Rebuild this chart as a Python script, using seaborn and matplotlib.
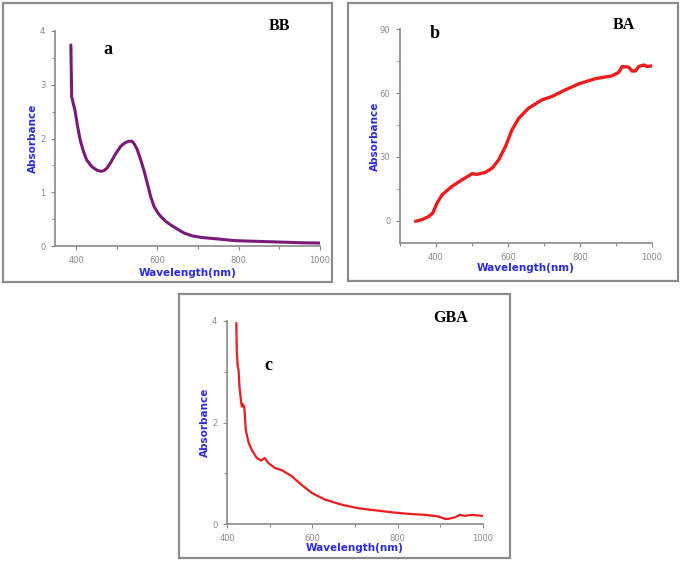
import numpy as np
import pandas as pd
import matplotlib.pyplot as plt
from matplotlib.patches import Rectangle
from matplotlib.ticker import MultipleLocator
import seaborn as sns

# Spectra (wavelength nm, absorbance)
bb_wl = [387, 389, 393, 397, 403, 410, 418, 426, 438, 451, 460, 468, 476, 484, 496,
         509, 520, 530, 537, 542, 550, 559, 567, 575, 583, 592, 600, 608, 620, 633,
         650, 666, 685, 707, 750, 790, 830, 873, 915, 955, 1000]
bb_abs = [3.74, 2.78, 2.65, 2.53, 2.25, 1.97, 1.76, 1.60, 1.48, 1.41, 1.39, 1.40, 1.45,
          1.54, 1.70, 1.85, 1.92, 1.95, 1.95, 1.91, 1.80, 1.60, 1.40, 1.17, 0.93, 0.73,
          0.63, 0.55, 0.46, 0.39, 0.31, 0.24, 0.19, 0.16, 0.13, 0.10, 0.09, 0.08, 0.07,
          0.06, 0.055]

ba_wl = [343, 361, 380, 391, 403, 417, 444, 472, 490, 500, 514, 537, 556, 574, 593,
         611, 630, 657, 694, 722, 759, 796, 843, 889, 907, 917, 935, 944, 954, 963,
         977, 986, 1000]
ba_abs = [-0.3, 0.5, 2.0, 3.6, 8.3, 12.2, 16.1, 19.2, 21.0, 22.1, 21.8, 22.7, 24.7,
          28.6, 34.9, 42.7, 48.2, 52.9, 56.8, 58.4, 61.5, 64.3, 66.8, 68.1, 69.7, 72.5,
          72.2, 70.4, 70.4, 72.5, 73.2, 72.5, 72.8]

gba_wl = [421.8, 423, 425, 427, 429.6, 433.5, 435, 437, 440.5, 444, 451, 460, 470, 480,
          488, 497, 513, 528.6, 552, 575, 599, 630, 669, 708, 747, 787, 825, 864, 895,
          911, 918, 934, 945.6, 957, 973, 1000]
gba_abs = [3.96, 3.40, 3.11, 3.04, 2.66, 2.38, 2.31, 2.36, 2.31, 1.85, 1.59, 1.43, 1.30,
           1.25, 1.30, 1.20, 1.10, 1.06, 0.94, 0.77, 0.61, 0.48, 0.38, 0.31, 0.27, 0.23,
           0.20, 0.18, 0.15, 0.10, 0.10, 0.13, 0.18, 0.16, 0.18, 0.16]

W, H = 685, 562
sns.set_style("ticks")
fig = plt.figure(figsize=(W / 100, H / 100), dpi=100)

gray = "#8a8a8a"
blue = "#2a2ae6"


def px_axes(left, right, top, bottom):
    return fig.add_axes([left / W, 1 - bottom / H, (right - left) / W, (bottom - top) / H])


def frame(x0, y0, x1, y1):
    fig.patches.append(Rectangle((x0 / W, 1 - y1 / H), (x1 - x0) / W, (y1 - y0) / H,
                                 transform=fig.transFigure, fill=False,
                                 edgecolor="#8c8c8c", lw=1.6))


def style(ax, xlim, ylim, ymaj, ymin, ylab_x, xlab_y):
    ax.set_xlim(*xlim)
    ax.set_ylim(*ylim)
    ax.set_xticks([400, 600, 800, 1000])
    ax.xaxis.set_minor_locator(MultipleLocator(100))
    ax.yaxis.set_major_locator(MultipleLocator(ymaj))
    ax.yaxis.set_minor_locator(MultipleLocator(ymin))
    for s in ["top", "right"]:
        ax.spines[s].set_visible(False)
    for s in ["left", "bottom"]:
        ax.spines[s].set_color(gray)
        ax.spines[s].set_linewidth(1.2)
    ax.tick_params(which="both", colors=gray, labelsize=6, length=3, width=0.8, pad=4)
    ax.tick_params(which="minor", length=2)
    ax.set_xlabel("Wavelength(nm)", color=blue, fontsize=7.5, fontweight="bold")
    ax.set_ylabel("Absorbance", color=blue, fontsize=7.5, fontweight="bold")
    ax.xaxis.set_label_coords(0.5, xlab_y)
    ax.xaxis.label.set_va("center")
    ax.yaxis.set_label_coords(ylab_x, 0.5)
    ax.yaxis.label.set_va("center")
    ax.yaxis.label.set_ha("center")


serif = dict(family="Liberation Serif", fontweight="bold", color="black")

# --- panel a: BB ---
frame(3, 3, 332, 282)
ax_a = px_axes(55, 320, 31, 246)
sns.lineplot(x=bb_wl, y=bb_abs, ax=ax_a, color="#7a1a78", lw=2.2)
style(ax_a, (348, 1000), (0, 4), 1, 0.5, -0.083, -0.126)
fig.text(108 / W, 1 - 49 / H, "a", fontsize=13, ha="center", va="center", **serif)
fig.text(279 / W, 1 - 26 / H, "BB", fontsize=11.5, ha="center", va="center", **serif)

# --- panel b: BA ---
frame(348, 3, 678, 281)
ax_b = px_axes(400, 652, 29.3, 243)
sns.lineplot(x=ba_wl, y=ba_abs, ax=ax_b, color="#ee1c1c", lw=2.4)
style(ax_b, (300, 1000), (-10.5, 90), 30, 15, -0.099, -0.117)
fig.text(435 / W, 1 - 34 / H, "b", fontsize=13, ha="center", va="center", **serif)
fig.text(624 / W, 1 - 25 / H, "BA", fontsize=11.5, ha="center", va="center", **serif)

# --- panel c: GBA ---
frame(179, 294, 510, 558)
ax_c = px_axes(227, 483, 321, 524)
sns.lineplot(x=gba_wl, y=gba_abs, ax=ax_c, color="#ee1c1c", lw=1.6)
style(ax_c, (400, 1000), (0, 4), 2, 1, -0.086, -0.118)
fig.text(268 / W, 1 - 365 / H, "c", fontsize=13, ha="center", va="center", **serif)
fig.text(451 / W, 1 - 318 / H, "GBA", fontsize=11.5, ha="center", va="center", **serif)

fig.savefig("out.png", dpi=100)
